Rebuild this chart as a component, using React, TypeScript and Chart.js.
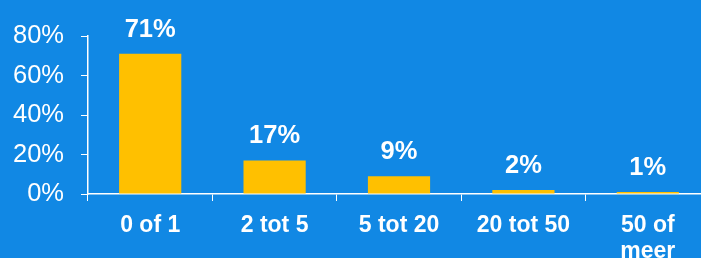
import React, { useEffect, useRef } from "react";
import { Chart, registerables } from "chart.js";

Chart.register(...registerables);

const categories: (string | string[])[] = ["0 of 1", "2 tot 5", "5 tot 20", "20 tot 50", ["50 of", "meer"]];
const values: number[] = [71, 17, 9, 2, 1];
const valueLabels: string[] = ["71%", "17%", "9%", "2%", "1%"];
const yTicks: number[] = [0, 20, 40, 60, 80];

const BG = "#1188e4";
const BAR = "#ffc000";
const FONT = "'Liberation Sans', Arial, sans-serif";

const dataLabelPlugin = {
  id: "dataLabels",
  afterDatasetsDraw(chart: any) {
    const ctx = chart.ctx;
    const meta = chart.getDatasetMeta(0);
    ctx.save();
    ctx.fillStyle = "#ffffff";
    ctx.font = "bold 25.5px " + FONT;
    ctx.textAlign = "center";
    ctx.textBaseline = "alphabetic";
    meta.data.forEach((bar: any, i: number) => {
      ctx.fillText(valueLabels[i], bar.x, bar.y - 17);
    });
    ctx.restore();
  },
};

export default function App() {
  const ref = useRef<HTMLCanvasElement | null>(null);
  useEffect(() => {
    if (!ref.current) return;
    const chart = new Chart(ref.current, {
      type: "bar",
      data: {
        labels: categories,
        datasets: [
          {
            data: values,
            backgroundColor: BAR,
            borderWidth: 0,
            categoryPercentage: 1,
            barPercentage: 0.5,
          },
        ],
      },
      options: {
        responsive: false,
        animation: false,
        devicePixelRatio: 1,
        layout: { padding: { top: 36, right: 0, left: 0, bottom: 0 } },
        plugins: {
          legend: { display: false },
          tooltip: { enabled: false },
        },
        scales: {
          x: {
            offset: true,
            grid: {
              display: true,
              drawOnChartArea: false,
              drawTicks: true,
              tickLength: 7,
              color: "#ffffff",
              offset: true,
            },
            border: { display: true, color: "#ffffff", width: 1.5 },
            ticks: {
              color: "#ffffff",
              font: { family: FONT, size: 23, weight: "bold", lineHeight: 1.12 },
              padding: 12,
              maxRotation: 0,
              autoSkip: false,
            },
            afterFit: (s: any) => {
              s.height = 64;
            },
          },
          y: {
            min: 0,
            max: 80,
            afterBuildTicks: (s: any) => {
              s.ticks = yTicks.map((v) => ({ value: v }));
            },
            grid: {
              display: true,
              drawOnChartArea: false,
              drawTicks: true,
              tickLength: 7,
              color: "#ffffff",
            },
            border: { display: true, color: "#ffffff", width: 1.5 },
            ticks: {
              color: "#ffffff",
              font: { family: FONT, size: 25.5 },
              padding: 17,
              callback: (v: any) => v + "%",
            },
            afterFit: (s: any) => {
              s.width = 88;
            },
          },
        },
      },
      plugins: [dataLabelPlugin],
    });
    return () => chart.destroy();
  }, []);
  return (
    <div
      style={{
        position: "fixed",
        left: 0,
        top: 0,
        width: 701,
        height: 258,
        overflow: "hidden",
        background: BG,
      }}
    >
      <canvas ref={ref} width={710} height={258} style={{ display: "block" }} />
    </div>
  );
}
